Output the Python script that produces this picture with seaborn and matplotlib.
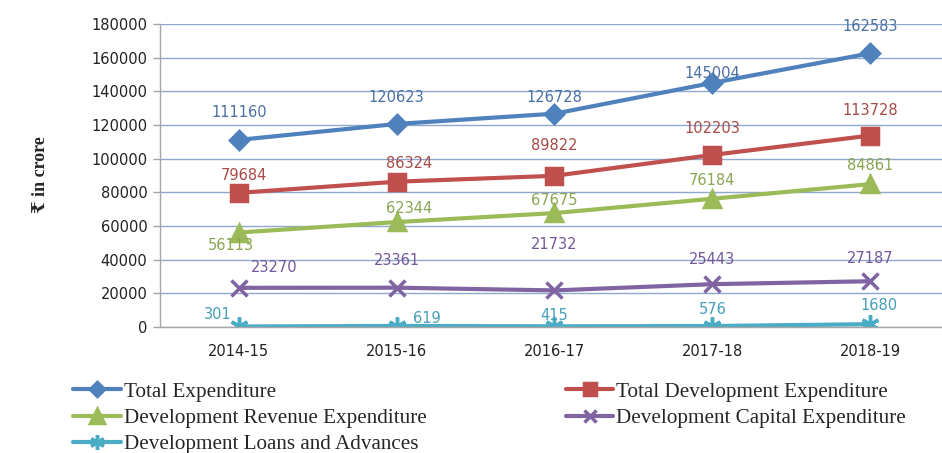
import matplotlib
matplotlib.use("Agg")
import matplotlib.pyplot as plt
import pandas as pd
import seaborn as sns


# ===================== DATA =====================
years = ["2014-15", "2015-16", "2016-17", "2017-18", "2018-19"]

total_exp = [111160, 120623, 126728, 145004, 162583]
total_dev_exp = [79684, 86324, 89822, 102203, 113728]
dev_revenue_exp = [56113, 62344, 67675, 76184, 84861]
dev_capital_exp = [23270, 23361, 21732, 25443, 27187]
dev_loans_adv = [301, 619, 415, 576, 1680]

series_names = [
    "Total Expenditure",
    "Total Development Expenditure",
    "Development Revenue Expenditure",
    "Development Capital Expenditure",
    "Development Loans and Advances",
]
series_values = [total_exp, total_dev_exp, dev_revenue_exp, dev_capital_exp, dev_loans_adv]

# ===================== STYLE =====================
line_colors = ["#4F81BD", "#C0504D", "#9BBB59", "#8064A2", "#4BACC6"]
label_colors = ["#4A6FA5", "#A84A47", "#8AA552", "#72589A", "#43A0B8"]
markers = ["D", "s", "^", "x", (6, 2, 0)]
marker_sizes = [9, 11, 12, 11, 13]

# label offsets in pixels (dx, dy) per series / point
label_offsets = [
    [(0, 27), (0, 26), (0, 16), (0, 9), (0, 27)],
    [(5, 17), (12, 18), (0, 30), (0, 26), (0, 25)],
    [(-8, -13), (12, 14), (0, 13), (0, 18), (0, 19)],
    [(35, 20), (0, 27), (0, 46), (0, 25), (0, 23)],
    [(-21, 12), (30, 7), (0, 11), (0, 17), (9, 19)],
]

# ===================== FRAME =====================
rows = []
for name, vals in zip(series_names, series_values):
    for yr, v in zip(years, vals):
        rows.append({"year": yr, "series": name, "value": v})
df = pd.DataFrame(rows)

sns.set_theme(style="white")
plt.rcParams["font.family"] = ["DejaVu Sans"]

fig = plt.figure(figsize=(9.42, 4.53), dpi=100)
ax = fig.add_axes([160 / 942, 1 - 327 / 453, 1 - 160 / 942, (327 - 24) / 453])

for name, col, mk, ms in zip(series_names, line_colors, markers, marker_sizes):
    sns.lineplot(
        data=df[df["series"] == name],
        x="year",
        y="value",
        color=col,
        marker=mk,
        markersize=ms,
        markeredgecolor=col,
        markerfacecolor=col,
        markeredgewidth=2.5,
        linewidth=3,
        solid_joinstyle="round",
        ax=ax,
        label=name,
        legend=False,
    )

# ===================== DATA LABELS =====================
for vals, offs, col in zip(series_values, label_offsets, label_colors):
    for i, (v, off) in enumerate(zip(vals, offs)):
        ax.annotate(
            f"{v}",
            xy=(i, v),
            xytext=off,
            textcoords="offset pixels",
            ha="center",
            va="center",
            fontsize=10.5,
            color=col,
        )

# ===================== AXES =====================
ax.set_ylim(0, 180000)
ax.set_yticks(range(0, 180001, 20000))
ax.set_xlim(-0.5, (942 - 238) / 158)
ax.set_xlabel("")
ax.set_ylabel("")
ax.yaxis.grid(True, color="#8FA8CC", linewidth=1)
ax.set_axisbelow(True)

for s in ["top", "right"]:
    ax.spines[s].set_visible(False)
for s in ["left", "bottom"]:
    ax.spines[s].set_color("#A6A6A6")
    ax.spines[s].set_linewidth(1)

ax.set_xticks([0.5, 1.5, 2.5, 3.5], minor=True)
ax.tick_params(axis="x", which="major", length=0, pad=12, labelsize=10.5, colors="#222222")
ax.tick_params(axis="x", which="minor", length=5, width=1, color="#A6A6A6", direction="out")
ax.tick_params(axis="y", length=5, width=1, color="#A6A6A6", direction="out",
               labelsize=10.5, labelcolor="#222222", pad=4)
ax.tick_params(axis="both", bottom=True, left=True)

fig.text(40 / 942, 1 - 175 / 453, "₹ in crore", rotation=90, ha="center", va="center",
         fontsize=13, fontweight="bold",
         family=["Liberation Serif", "DejaVu Serif", "DejaVu Sans"])

# ===================== LEGEND =====================
order = [0, 2, 4, 1, 3]
handles = [ax.lines[i] for i in order]
labels = [series_names[i] for i in order]
leg = fig.legend(
    handles,
    labels,
    ncol=2,
    loc="upper left",
    bbox_to_anchor=(73 / 942, 1 - 382 / 453),
    frameon=False,
    borderpad=0,
    borderaxespad=0,
    handlelength=2.25,
    handletextpad=0.15,
    columnspacing=6.6,
    labelspacing=0.31,
    prop={"family": "Liberation Serif", "size": 15.2},
)
for h in leg.legend_handles:
    h.set_markersize(h.get_markersize() * 0.8)

fig.savefig("out.png", dpi=100)
